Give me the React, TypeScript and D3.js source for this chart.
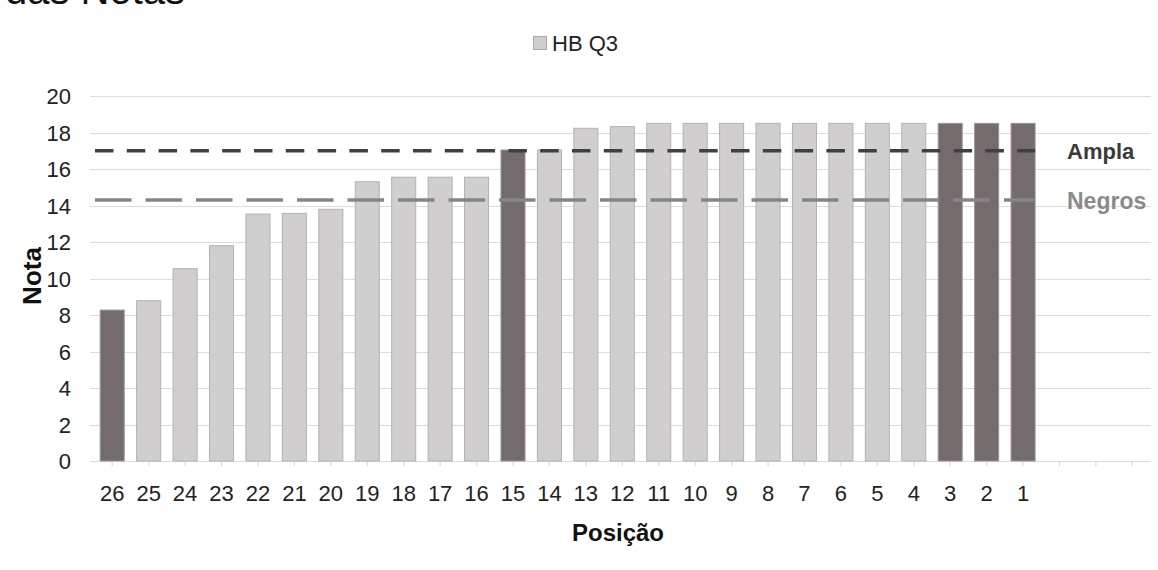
import React from "react";
import * as d3 from "d3";

const positions = ["26","25","24","23","22","21","20","19","18","17","16","15","14","13","12","11","10","9","8","7","6","5","4","3","2","1"];
const emptySlots = ["e1", "e2", "e3"];
const notas = [8.27, 8.78, 10.54, 11.8, 13.53, 13.57, 13.79, 15.3, 15.55, 15.55, 15.55, 17.04, 17.04, 18.23, 18.32, 18.5, 18.5, 18.5, 18.5, 18.5, 18.5, 18.5, 18.5, 18.5, 18.5, 18.5];
const highlighted = ["26", "15", "3", "2", "1"];
const yTicks = [0, 2, 4, 6, 8, 10, 12, 14, 16, 18, 20];
const refLines = [
  { name: "Ampla", value: 17.0, color: "#404040", dash: "18.5 13.3", labelColor: "#3a3a3a", labelSize: 22, labelDy: 8 },
  { name: "Negros", value: 14.3, color: "#858585", dash: "36.5 14", labelColor: "#8a8a8a", labelSize: 23, labelDy: 9 },
];
const seriesName = "HB Q3";
const title = "das Notas";
const xTitle = "Posição";
const yTitle = "Nota";

const W = 1158;
const H = 570;
const left = 94;
const right = 1150.6;
const top = 96;
const bottom = 461;
const font = "'Liberation Sans', Arial, Helvetica, sans-serif";

export default function App() {
  const domain = [...positions, ...emptySlots];
  const x = d3.scaleBand<string>().domain(domain).range([left, right]).paddingInner(0.34).paddingOuter(0.17);
  const y = d3.scaleLinear().domain([0, 20]).range([bottom, top]);
  const lineEnd = (x(positions[positions.length - 1]) as number) + x.bandwidth();

  return (
    <svg width={W} height={H} style={{ position: "absolute", left: 0, top: 0, background: "#fff" }} fontFamily={font}>
      <text x={5} y={4} fontSize={40} fill="#111">{title}</text>

      {/* legend */}
      <rect x={533.5} y={36.5} width={13} height={13} fill="#d0cecf" stroke="#aaa8a9" strokeWidth={1} />
      <text x={552} y={51} fontSize={22} fill="#222">{seriesName}</text>

      {/* gridlines */}
      {yTicks.map((t) => (
        <line key={"g" + t} x1={left - 4} x2={right} y1={Math.round(y(t)) + 0.5} y2={Math.round(y(t)) + 0.5} stroke="#dcdcdc" strokeWidth={1.2} />
      ))}
      {yTicks.map((t) => (
        <text key={"yl" + t} x={71} y={y(t) + 8} fontSize={22} textAnchor="end" fill="#222">{t}</text>
      ))}

      {/* x ticks */}
      {domain.map((d) => {
        const cx = (x(d) as number) + x.bandwidth() / 2;
        return <line key={"xt" + d} x1={cx} x2={cx} y1={bottom} y2={bottom + 5} stroke="#d9d9d9" strokeWidth={1.2} />;
      })}
      {positions.map((d) => (
        <text key={"xl" + d} x={(x(d) as number) + x.bandwidth() / 2} y={501} fontSize={22} textAnchor="middle" fill="#222">{d}</text>
      ))}

      {/* bars */}
      {positions.map((d, i) => {
        const hl = highlighted.includes(d);
        return (
          <rect key={"b" + d} x={x(d) as number} y={y(notas[i])} width={x.bandwidth()} height={y(0) - y(notas[i])}
            fill={hl ? "#736b6c" : "#d0cecf"} stroke={hl ? "#9c9596" : "#b3b1b2"} strokeWidth={1} />
        );
      })}

      {/* reference lines */}
      {refLines.map((r) => (
        <g key={r.name}>
          <line x1={left + 1} x2={lineEnd} y1={y(r.value)} y2={y(r.value)} stroke={r.color} strokeWidth={3.6} strokeDasharray={r.dash} />
          <text x={1067} y={y(r.value) + r.labelDy} fontSize={r.labelSize} fontWeight="bold" fill={r.labelColor}>{r.name}</text>
        </g>
      ))}

      {/* axis titles */}
      <text x={618} y={541} fontSize={24} fontWeight="bold" textAnchor="middle" fill="#111">{xTitle}</text>
      <text transform={`translate(41, 276) rotate(-90)`} fontSize={26} fontWeight="bold" textAnchor="middle" fill="#111">{yTitle}</text>
    </svg>
  );
}
